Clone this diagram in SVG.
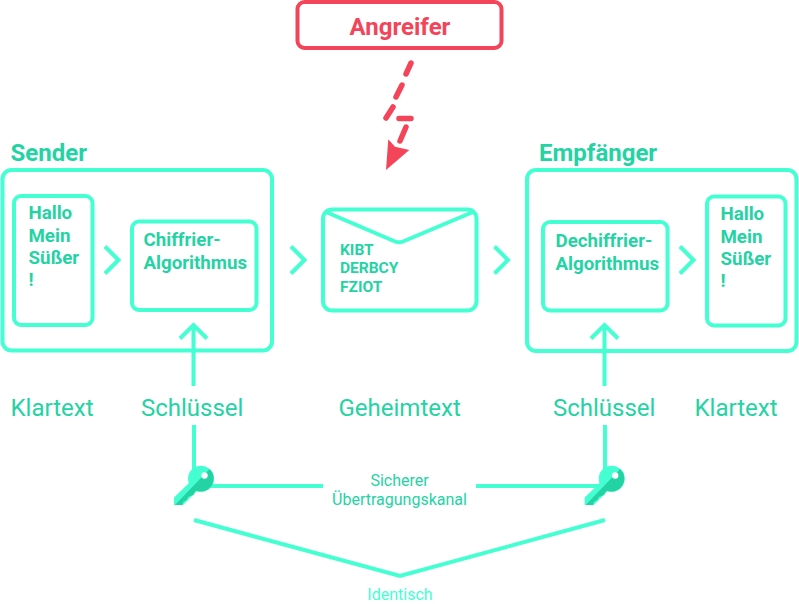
<svg xmlns="http://www.w3.org/2000/svg" width="799" height="604" viewBox="0 0 799 604">
<style>
text{font-family:Roboto,"Liberation Sans",sans-serif;fill:#24d3a3}
.b{fill:none;stroke:#43ffd2;stroke-width:4;stroke-linejoin:miter}
.h{font-size:24px;font-weight:700}
.t{font-size:18.700px;font-weight:700}
.l{font-size:24px;font-weight:400}
.s{font-size:16px;font-weight:400}
.e{font-size:15.500px;font-weight:700}
.r{fill:none;stroke:#f44459;stroke-linecap:round;stroke-width:5.500}
</style>
<defs>
<g id="key">
<circle cx="201" cy="478.700" r="13" fill="#43ffd2"/>
<path d="M174 497.500 190 482 198 490 183 505H174z" fill="#43ffd2"/>
<path d="M175 505 209.500 469A13 13 0 0 1 196 490.700L195 491.700 193.300 495 188.300 496.700 186.700 500 183.300 501.700 182.300 505z" fill="#24d3a3"/>
<circle cx="204.500" cy="475.500" r="3.200" fill="#fff"/>
</g>
</defs>
<g id="connectors">
<path class="b" d="M105 246.500 118.500 260 105 273.500"/>
<path class="b" d="M291 246.500 304.500 260 291 273.500"/>
<path class="b" d="M494.500 246.500 508 260 494.500 273.500"/>
<path class="b" d="M680 246.500 693.500 260 680 273.500"/>
<path class="b" d="M193.500 386V326M180 338.500 193.500 325 207 338.500"/>
<path class="b" d="M604.500 386V326M591 338.500 604.500 325 618 338.500"/>
<path class="b" d="M194 425V470M605 425V470"/>
<path class="b" d="M208 486H323M476 486H600"/>
<path class="b" d="M194 520 400 576 605 520"/>
<path class="r" d="M411 63 406 74M402 85 396 97M393 107 386 118M399 118.500H411M406 127 400 141"/>
<path d="M388.300 139.300 395 146.700 409.300 150 386 170z" fill="#f44459"/>
</g>
<g id="angreifer">
<rect x="297.500" y="2" width="204" height="46" rx="7" fill="none" stroke="#f44459" stroke-width="4"/>
<text x="400" y="35" text-anchor="middle" class="h" style="fill:#f44459">Angreifer</text>
</g>
<g id="sender">
<rect class="b" x="2.500" y="170" width="269.500" height="180.500" rx="9"/>
<text x="10.500" y="160.500" class="h">Sender</text>
</g>
<g id="klartext-sender">
<rect class="b" x="14" y="196" width="78.500" height="129" rx="7"/>
<text class="t"><tspan x="28.500" y="219">Hallo</tspan><tspan x="28.500" y="241.500">Mein</tspan><tspan x="28.500" y="264">Süßer</tspan><tspan x="28.500" y="286">!</tspan></text>
</g>
<g id="chiffrier">
<rect class="b" x="132" y="221.500" width="124.500" height="88.500" rx="7"/>
<text class="t"><tspan x="143.500" y="246">Chiffrier-</tspan><tspan x="143.500" y="268.500">Algorithmus</tspan></text>
</g>
<g id="geheimtext">
<rect class="b" x="323" y="209.500" width="153.500" height="101" rx="9"/>
<path class="b" d="M326 212 395 241.500Q399 243 403 241.500L473 212"/>
<text class="e"><tspan x="340" y="254.500">KIBT</tspan><tspan x="340" y="273">DERBCY</tspan><tspan x="340" y="291.500">FZIOT</tspan></text>
</g>
<g id="empfaenger">
<rect class="b" x="527" y="170" width="269.500" height="181" rx="9"/>
<text x="539" y="160.500" class="h">Empfänger</text>
</g>
<g id="dechiffrier">
<rect class="b" x="543" y="222" width="124.500" height="88.500" rx="7"/>
<text class="t"><tspan x="555.500" y="247">Dechiffrier-</tspan><tspan x="555.500" y="269.500">Algorithmus</tspan></text>
</g>
<g id="klartext-empfaenger">
<rect class="b" x="707" y="196.500" width="78.500" height="129" rx="7"/>
<text class="t"><tspan x="720.500" y="220">Hallo</tspan><tspan x="720.500" y="242.500">Mein</tspan><tspan x="720.500" y="265">Süßer</tspan><tspan x="720.500" y="287">!</tspan></text>
</g>
<g id="labels">
<text x="10.500" y="416" class="l">Klartext</text>
<text x="141" y="416" class="l">Schlüssel</text>
<text x="338.500" y="416" class="l">Geheimtext</text>
<text x="553" y="416" class="l">Schlüssel</text>
<text x="694.500" y="416" class="l">Klartext</text>
</g>
<g id="key-left"><use href="#key"/></g>
<g id="key-right"><use href="#key" x="410.700"/></g>
<g id="kanal">
<text x="399.500" y="485.500" text-anchor="middle" class="s">Sicherer</text>
<text x="399.500" y="505" text-anchor="middle" class="s">Übertragungskanal</text>
</g>
<g id="identisch"><text x="400" y="599.500" text-anchor="middle" class="s" style="fill:#43ffd2">Identisch</text></g>
</svg>
